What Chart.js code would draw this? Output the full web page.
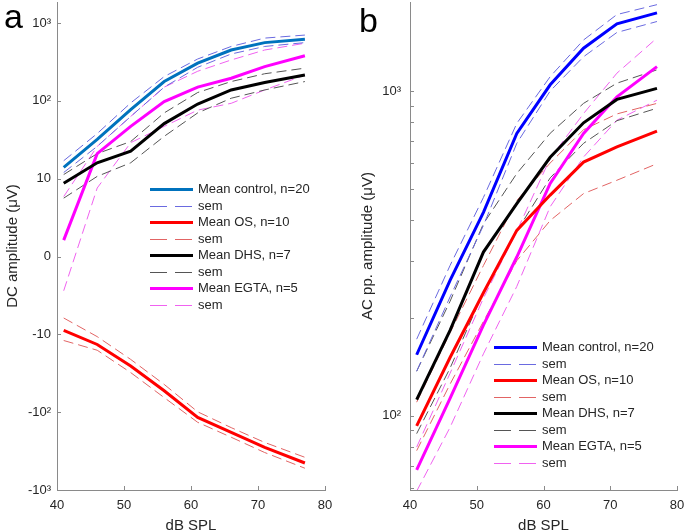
<!DOCTYPE html>
<html>
<head>
<meta charset="utf-8">
<script src="https://cdn.jsdelivr.net/npm/chart.js@4.4.0/dist/chart.umd.min.js"></script>
<style>
    html, body { margin: 0; padding: 0; background: #fff; overflow: hidden; }
    #wrap { position: relative; width: 685px; height: 532px; overflow: hidden; }
    .panel { position: absolute; top: 0; height: 540px; }
    #pa { left: 0; width: 342px; }
    #pb { left: 342px; width: 343px; }
</style>
</head>
<body>
<div id="wrap">
    <div class="panel" id="pa"><canvas id="ca" width="342" height="540"></canvas></div>
    <div class="panel" id="pb"><canvas id="cb" width="343" height="540"></canvas></div>
</div>
<script>
// sound levels (dB SPL)
const levels = [41, 46, 51, 56, 61, 66, 71, 77];

// panel a: DC amplitude (uV)
const ctrlA   = [14, 32, 77, 177, 305, 450, 560, 617];
const ctrlAHi = [17, 38, 94, 205, 345, 500, 640, 700];
const ctrlALo = [12, 26, 63, 150, 270, 400, 500, 560];
const osA     = [-9.5, -13.5, -25.5, -53, -117, -182, -284, -450];
const osAHi   = [-7.9, -10.7, -21, -44, -99, -158, -245, -380];
const osALo   = [-12, -16, -31, -65, -135, -210, -330, -525];
const dhsA    = [9.4, 16, 22.5, 51, 91, 138, 172, 215];
const dhsAHi  = [11.3, 21, 30, 70, 128, 177, 223, 263];
const dhsALo  = [7.5, 10.7, 16, 35, 70, 108, 138, 177];
const egtaA   = [2.1, 21, 47, 98, 150, 195, 275, 380];
const egtaAHi = [7.7, 26, 63, 150, 240, 335, 450, 550];
const egtaALo = [-4.4, 8.8, 29, 47, 76, 93, 138, 215];

// panel b: AC pp. amplitude (uV)
const ctrlB   = [154, 261, 423, 740, 1045, 1355, 1610, 1740];
const ctrlBHi = [172, 290, 470, 795, 1107, 1436, 1720, 1845];
const ctrlBLo = [137, 232, 385, 690, 1000, 1275, 1515, 1637];
const osB     = [93, 151, 239, 372, 478, 604, 673, 752];
const osBHi   = [110, 180, 290, 460, 600, 760, 850, 916];
const osBLo   = [78, 125, 195, 300, 399, 483, 531, 597];
const dhsB    = [112, 183, 319, 450, 625, 798, 942, 1019];
const dhsBHi  = [137, 225, 390, 557, 741, 916, 1057, 1162];
const dhsBLo  = [88, 140, 240, 370, 540, 690, 810, 885];
const egtaB   = [68, 113, 190, 308, 519, 740, 960, 1189];
const egtaBHi = [80, 135, 230, 370, 620, 852, 1135, 1456];
const egtaBLo = [58.5, 92, 155, 250, 440, 626, 813, 937];

// axis ticks
const xTicks = [40, 50, 60, 70, 80];
const yTickValsA = [-1000, -100, -10, 0, 10, 100, 1000];
const yTickLabelsA = ['-10³', '-10²', '-10', '0', '10', '10²', '10³'];
const yTickValsB = [60, 70, 80, 90, 100, 200, 300, 400, 500, 600, 700, 800, 900, 1000];
const yTickLabelsB = { 100: '10²', 1000: '10³' };

const AXIS = '#8a8a8a';
const TEXT = '#262626';
Chart.defaults.font.family = '"Liberation Sans", Arial, Helvetica, sans-serif';
Chart.defaults.color = TEXT;

// linear inside +-10, log10 outside
const symlog = v => Math.abs(v) <= 10 ? v / 10 : Math.sign(v) * Math.log10(Math.abs(v));

const pts = (vals, f) => levels.map((x, i) => ({ x, y: f ? f(vals[i]) : vals[i] }));

const groups = (ctrlColor, sets, f) => {
    const names = ['Mean control, n=20', 'Mean OS, n=10', 'Mean DHS, n=7', 'Mean EGTA, n=5'];
    const colors = [ctrlColor, '#ff0000', '#000000', '#ff00ff'];
    const semColors = ['#6a6ae0', '#e26464', '#555555', '#f062f0'];
    const out = [];
    sets.forEach((s, i) => {
        out.push({ label: names[i], data: pts(s[0], f), borderColor: colors[i], borderWidth: 3, order: 0, inLegend: true });
        out.push({ label: 'sem', data: pts(s[1], f), borderColor: semColors[i], borderWidth: 1, borderDash: [10, 5], order: 1, inLegend: true });
        out.push({ label: 'sem', data: pts(s[2], f), borderColor: semColors[i], borderWidth: 1, borderDash: [10, 5], order: 1, inLegend: false });
    });
    return out;
};

// MATLAB-style ticks pointing into the plot
const inwardTicks = {
    id: 'inwardTicks',
    afterDraw(chart) {
        const { ctx, chartArea: { left, bottom } } = chart;
        const xs = chart.scales.x, ys = chart.scales.y;
        ctx.save();
        ctx.strokeStyle = AXIS;
        ctx.lineWidth = 1;
        ctx.beginPath();
        xs.ticks.forEach(t => {
            const px = Math.round(xs.getPixelForValue(t.value)) + 0.5;
            ctx.moveTo(px, bottom); ctx.lineTo(px, bottom - 4);
        });
        ys.ticks.forEach(t => {
            const py = Math.round(ys.getPixelForValue(t.value)) + 0.5;
            ctx.moveTo(left, py); ctx.lineTo(left + 4, py);
        });
        ctx.stroke();
        ctx.restore();
    }
};

// legend box and panel letter
const panelDeco = {
    id: 'panelDeco',
    afterDraw(chart, args, opts) {
        const { ctx } = chart;
        ctx.save();
        ctx.fillStyle = '#000';
        ctx.font = '34px "Liberation Sans", Arial, sans-serif';
        ctx.textBaseline = 'alphabetic';
        ctx.fillText(opts.letter, opts.letterX, opts.letterY);

        ctx.font = '13px "Liberation Sans", Arial, sans-serif';
        ctx.textBaseline = 'middle';
        let row = 0;
        chart.data.datasets.forEach(ds => {
            if (!ds.inLegend) return;
            const y = Math.round(opts.legendY + row * 16.5) + 0.5;
            ctx.strokeStyle = ds.borderColor;
            ctx.lineWidth = ds.borderWidth;
            ctx.setLineDash(ds.borderDash ? [17, 8] : []);
            ctx.beginPath();
            ctx.moveTo(opts.legendX, y);
            ctx.lineTo(opts.legendX + 43, y);
            ctx.stroke();
            ctx.fillStyle = TEXT;
            ctx.fillText(ds.label, opts.legendX + 48, y);
            row++;
        });
        ctx.restore();
    }
};

const xScale = {
    type: 'linear', min: 40, max: 80,
    afterBuildTicks: s => { s.ticks = xTicks.map(v => ({ value: v })); },
    ticks: { padding: 8, font: { size: 13 }, color: TEXT },
    grid: { display: false, drawTicks: false },
    border: { color: AXIS, width: 1 },
    title: { display: true, text: 'dB SPL', font: { size: 15 }, color: TEXT, padding: { top: 0, bottom: 5 } },
    afterFit: s => { s.height = 50; s.paddingLeft = 0; s.paddingRight = 0; }
};

const baseOptions = {
    responsive: false,
    animation: false,
    elements: { point: { radius: 0 }, line: { tension: 0 } },
    plugins: { legend: { display: false }, tooltip: { enabled: false } }
};

new Chart(document.getElementById('ca'), {
    type: 'line',
    data: {
        datasets: groups('#0072bd', [
            [ctrlA, ctrlAHi, ctrlALo],
            [osA, osAHi, osALo],
            [dhsA, dhsAHi, dhsALo],
            [egtaA, egtaAHi, egtaALo]
        ], symlog)
    },
    options: {
        ...baseOptions,
        layout: { padding: { top: 2, right: 17, left: 0, bottom: 0 } },
        scales: {
            x: xScale,
            y: {
                type: 'linear', min: -3, max: 3.27,
                afterBuildTicks: s => { s.ticks = yTickValsA.map(v => ({ value: symlog(v) })); },
                ticks: { padding: 6, font: { size: 13 }, color: TEXT, autoSkip: false,
                    callback: (v, i) => yTickLabelsA[i] },
                grid: { display: false, drawTicks: false },
                border: { color: AXIS, width: 1 },
                title: { display: true, text: 'DC amplitude (μV)', font: { size: 15 }, color: TEXT, padding: { top: 4, bottom: 0 } },
                afterFit: s => { s.width = 57; s.paddingTop = 0; s.paddingBottom = 0; }
            }
        },
        plugins: {
            ...baseOptions.plugins,
            panelDeco: { letter: 'a', letterX: 4, letterY: 28, legendX: 150, legendY: 189 }
        }
    },
    plugins: [inwardTicks, panelDeco]
});

new Chart(document.getElementById('cb'), {
    type: 'line',
    data: {
        datasets: groups('#0000ff', [
            [ctrlB, ctrlBHi, ctrlBLo],
            [osB, osBHi, osBLo],
            [dhsB, dhsBHi, dhsBLo],
            [egtaB, egtaBHi, egtaBLo]
        ])
    },
    options: {
        ...baseOptions,
        layout: { padding: { top: 2, right: 8, left: 0, bottom: 0 } },
        scales: {
            x: xScale,
            y: {
                type: 'logarithmic', min: 59, max: 1880,
                afterBuildTicks: s => { s.ticks = yTickValsB.map(v => ({ value: v })); },
                ticks: { padding: 9, font: { size: 13 }, color: TEXT, autoSkip: false,
                    callback: v => yTickLabelsB[v] || '' },
                grid: { display: false, drawTicks: false },
                border: { color: AXIS, width: 1 },
                title: { display: true, text: 'AC pp. amplitude (μV)', font: { size: 15 }, color: TEXT, padding: { top: 17, bottom: 0 } },
                afterFit: s => { s.width = 68; s.paddingTop = 0; s.paddingBottom = 0; }
            }
        },
        plugins: {
            ...baseOptions.plugins,
            panelDeco: { letter: 'b', letterX: 17, letterY: 32, legendX: 152, legendY: 347 }
        }
    },
    plugins: [inwardTicks, panelDeco]
});
</script>
</body>
</html>
